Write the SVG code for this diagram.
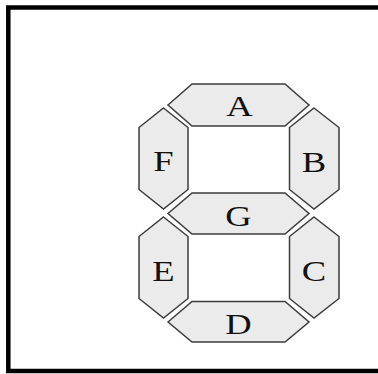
<svg xmlns="http://www.w3.org/2000/svg" width="378" height="374" viewBox="0 0 378 374">
<style>
.seg{fill:#ebebeb;stroke:#3c3c3c;stroke-width:1.5;stroke-linejoin:miter}
.lbl{font-family:"Liberation Serif","Times New Roman",serif;font-size:30px;fill:#111;text-anchor:middle}
</style>
<rect x="0" y="0" width="378" height="374" fill="#fff"/>
<rect x="8.3" y="7.5" width="380" height="363.5" fill="none" stroke="#000" stroke-width="4.5"/>
<g id="A"><polygon class="seg" points="168,105 192,84 285,84 309,105 285,126 192,126"/><text class="lbl" transform="translate(239.5,116.3) scale(1.22,1)">A</text></g>
<g id="G"><polygon class="seg" points="168,213.5 192,193 285,193 309,213.5 285,234 192,234"/><text class="lbl" transform="translate(238.5,226) scale(1.22,1)">G</text></g>
<g id="D"><polygon class="seg" points="168,322 192,301.5 285,301.5 309,322 285,342 192,342"/><text class="lbl" transform="translate(238.5,334) scale(1.22,1)">D</text></g>
<g id="F"><polygon class="seg" points="163.5,108 188,127.5 188,189.5 163.5,209 139,189.5 139,127.5"/><text class="lbl" transform="translate(163.5,171) scale(1.22,1)">F</text></g>
<g id="E"><polygon class="seg" points="163.5,217 188,236.5 188,298.5 163.5,318 139,298.5 139,236.5"/><text class="lbl" transform="translate(163.5,280.5) scale(1.22,1)">E</text></g>
<g id="B"><polygon class="seg" points="314,108 339,127.5 339,189.5 314,209 289.5,189.5 289.5,127.5"/><text class="lbl" transform="translate(314,171.5) scale(1.22,1)">B</text></g>
<g id="C"><polygon class="seg" points="314,217 339,236.5 339,298.5 314,318 289.5,298.5 289.5,236.5"/><text class="lbl" transform="translate(314,281) scale(1.22,1)">C</text></g>
<g id="connectors"></g>
</svg>
